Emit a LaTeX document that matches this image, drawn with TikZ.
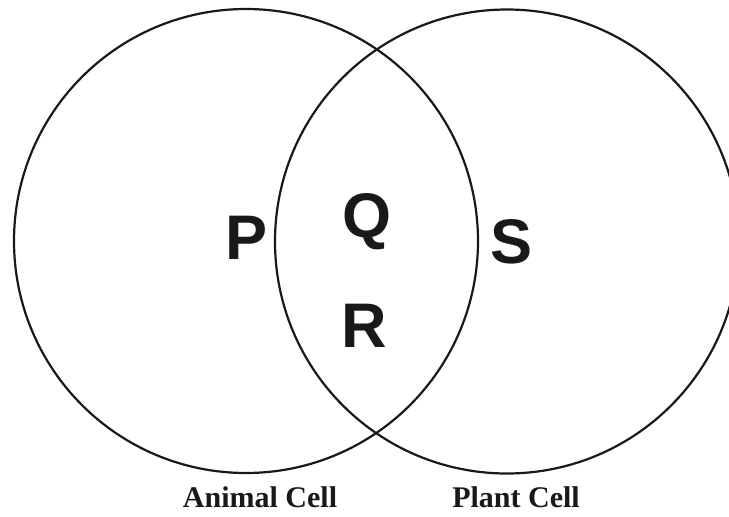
\documentclass[tikz,border=0pt]{standalone}
\usepackage{fontspec}
\newfontfamily\letterfont{Liberation Sans}
\newfontfamily\labelfont{Liberation Serif}
\begin{document}
\begin{tikzpicture}[x=1pt,y=-1pt,
  setcircle/.style={draw, circle, line width=2.2pt, minimum size=464pt, inner sep=0pt, color=black!90},
  letter/.style={font=\letterfont\bfseries\fontsize{63}{63}\selectfont, text=black!90, inner sep=0pt},
  caption/.style={font=\labelfont\bfseries\fontsize{30}{30}\selectfont, text=black!90, inner sep=0pt}]
\useasboundingbox (0,0) rectangle (729,517);
\clip (0,0) rectangle (729,517);
\node[setcircle] (animal) at (246,241) {};
\node[setcircle] (plant) at (507,241.5) {};
\node[letter] (p) at (247,238) {P};
\node[letter] (q) at (367,222) {Q};
\node[letter] (r) at (364,326) {R};
\node[letter] (s) at (512,242) {S};
\node[caption, anchor=base] (al) at (260,507) {Animal Cell};
\node[caption, anchor=base] (pl) at (516,507) {Plant Cell};
\end{tikzpicture}
\end{document}
